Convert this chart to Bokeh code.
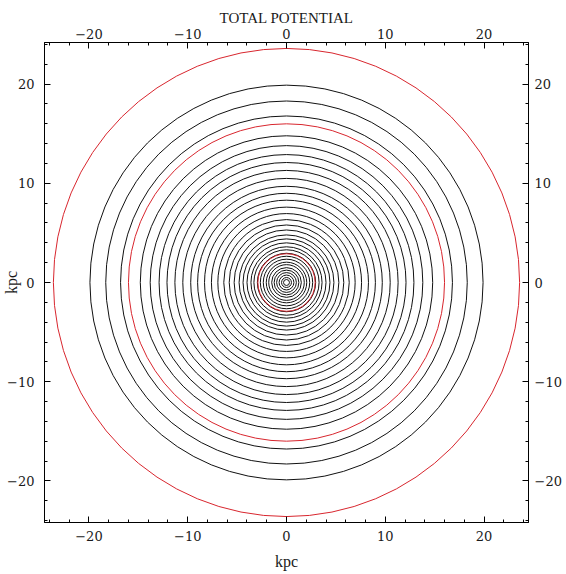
from bokeh.plotting import figure
from bokeh.models import Range1d, FixedTicker, LinearAxis, ColumnDataSource
from bokeh.embed import file_html
from bokeh.resources import INLINE

# ---- data (kpc) ----
contour_radii = [0.3, 0.5, 0.75, 1.0, 1.25, 1.5, 1.8, 2.05, 2.35, 2.65, 2.95,
                 3.3, 3.6, 4.0, 4.4, 4.8, 5.3, 5.8, 6.35, 6.95, 7.6, 8.3,
                 9.0, 9.7, 10.5, 11.3, 12.1, 12.9, 13.8, 14.8, 16.8, 18.3, 19.9]
ring_radii = [2.9, 16.0, 23.6]
major_ticks = [-20, -10, 0, 10, 20]
tick_labels = ["\u221220", "\u221210", "0", "10", "20"]
minor_ticks = [-24, -22, -18, -16, -14, -12, -8, -6, -4, -2,
               2, 4, 6, 8, 12, 14, 16, 18, 22, 24]
title_text = "TOTAL POTENTIAL"
axis_title = "kpc"

SERIF = "DejaVu Serif"
TSERIF = "Liberation Serif"
TEXT_COLOR = "#1a1a1a"

p = figure(width=566, height=574,
           x_range=Range1d(-24.5, 24.5), y_range=Range1d(-24.2, 24.2),
           output_backend="svg", toolbar_location=None,
           min_border_left=43, min_border_right=38,
           min_border_top=42, min_border_bottom=52)
p.grid.visible = False
p.outline_line_color = "black"
p.background_fill_color = "white"
p.border_fill_color = "white"

p.title.text = title_text
p.title.align = "center"
p.title.text_font = TSERIF
p.title.text_font_size = "15px"
p.title.text_font_style = "normal"
p.title.text_color = TEXT_COLOR
p.title.standoff = 0

p.add_layout(LinearAxis(), "above")
p.add_layout(LinearAxis(), "right")

standoffs = {"below": 8, "above": 4, "left": 10, "right": 6}
for side in ["below", "above", "left", "right"]:
    for ax in getattr(p, side):
        if not isinstance(ax, LinearAxis):
            continue
        ax.ticker = FixedTicker(ticks=major_ticks, minor_ticks=minor_ticks)
        ax.major_label_overrides = dict(zip(major_ticks, tick_labels))
        ax.major_tick_in = 6
        ax.major_tick_out = 0
        ax.minor_tick_in = 3
        ax.minor_tick_out = 0
        ax.major_tick_line_color = "black"
        ax.minor_tick_line_color = "black"
        ax.axis_line_color = "black"
        ax.major_label_text_font = SERIF
        ax.major_label_text_font_size = "13px"
        ax.major_label_text_color = TEXT_COLOR
        ax.major_label_standoff = standoffs[side]

bottom_axis = [a for a in p.below if isinstance(a, LinearAxis)][0]
left_axis = [a for a in p.left if isinstance(a, LinearAxis)][0]
for ax, st in [(bottom_axis, 9), (left_axis, -16)]:
    ax.axis_label = axis_title
    ax.axis_label_text_font = TSERIF
    ax.axis_label_text_font_size = "16px"
    ax.axis_label_text_font_style = "normal"
    ax.axis_label_text_color = TEXT_COLOR
    ax.axis_label_standoff = st

# black contours of the total potential
src = ColumnDataSource(dict(x=[0.0] * len(contour_radii), y=[0.0] * len(contour_radii),
                            d=[2 * r for r in contour_radii]))
p.ellipse(x="x", y="y", width="d", height="d", source=src,
          fill_color=None, line_color="#111111", line_width=1)

# red reference circles
rsrc = ColumnDataSource(dict(x=[0.0] * len(ring_radii), y=[0.0] * len(ring_radii),
                             d=[2 * r for r in ring_radii]))
p.ellipse(x="x", y="y", width="d", height="d", source=rsrc,
          fill_color=None, line_color="#d8262e", line_width=1)

open("out.html", "w").write(file_html(p, INLINE))
